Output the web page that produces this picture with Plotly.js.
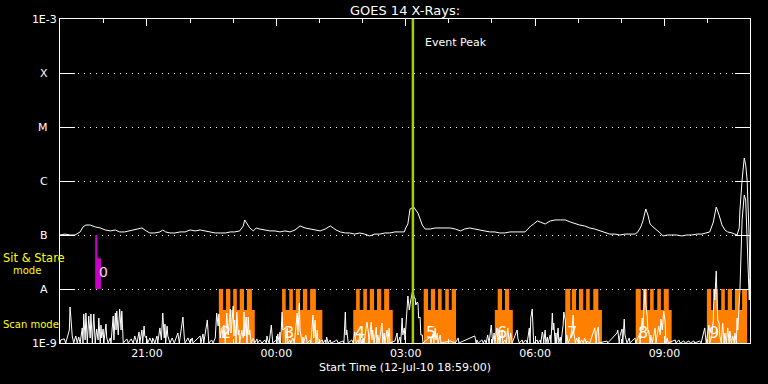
<!DOCTYPE html>
<html>
<head>
<meta charset="utf-8">
<script src="https://cdn.plot.ly/plotly-3.0.1.min.js"></script>
<style>html,body{margin:0;padding:0;background:#000;}#chart{width:768px;height:384px;}</style>
</head>
<body>
<div id="chart"></div>
<script>
// ---- data (times in minutes after 12-Jul-2010 18:59 UT) ----
const startUTC = Date.UTC(2010, 6, 12, 18, 59, 0);
const endMin = 960;
const eventPeakTime = '2010-07-13 03:10:00';

// long channel (1-8 A): [minute, flux x1e-7 W/m^2]
const longChannel = [
[0,1.00],[7,1.04],[14,1.00],[21,1.00],[28,1.14],[32,1.41],[36,1.53],[42,1.53],[49,1.41],[56,1.35],
[63,1.24],[70,1.19],[77,1.24],[83,1.14],[90,1.14],[97,1.19],[104,1.24],[114,1.35],[120,1.19],[125,1.09],
[132,1.09],[139,1.14],[143,1.24],[147,1.14],[153,1.09],[160,1.09],[167,1.14],[174,1.14],[181,1.24],[188,1.19],
[195,1.24],[202,1.19],[209,1.14],[216,1.09],[223,1.09],[230,1.09],[237,1.14],[243,1.14],[250,1.19],[255,1.47],
[257,1.90],[260,1.60],[264,1.35],[269,1.19],[273,1.35],[278,1.29],[285,1.24],[292,1.19],[299,1.19],[306,1.14],
[313,1.19],[320,1.14],[327,1.24],[334,1.47],[341,1.35],[348,1.29],[355,1.24],[362,1.19],[369,1.29],[376,1.47],
[380,1.35],[384,1.24],[390,1.14],[397,1.09],[403,1.09],[410,1.04],[417,1.09],[424,1.04],[431,0.96],[438,1.04],
[445,1.04],[452,1.09],[459,1.09],[466,1.14],[473,1.14],[479,1.14],[481,1.35],[484,1.60],[487,3.03],[490,3.16],
[491,3.44],[494,3.03],[498,2.55],[501,1.98],[504,1.53],[508,1.29],[515,1.29],[522,1.35],[529,1.35],[536,1.35],
[543,1.35],[550,1.29],[557,1.19],[563,1.29],[570,1.35],[577,1.29],[584,1.24],[591,1.19],[598,1.14],[605,1.14],
[612,1.09],[619,1.09],[626,1.14],[633,1.14],[640,1.14],[647,1.14],[651,1.29],[655,1.47],[659,1.60],[664,1.82],
[668,1.74],[675,1.60],[682,1.82],[689,1.90],[696,1.90],[703,1.90],[710,1.74],[717,1.60],[723,1.53],[730,1.47],
[737,1.35],[744,1.29],[751,1.19],[758,1.09],[765,1.04],[772,1.04],[779,1.00],[786,1.04],[793,1.04],[800,1.04],
[804,1.14],[808,1.41],[811,1.82],[815,3.03],[818,2.34],[821,1.60],[825,1.41],[829,1.29],[835,1.09],[839,0.96],
[845,1.00],[851,1.00],[858,1.00],[865,0.96],[872,1.00],[879,1.00],[886,1.04],[893,1.04],[900,1.09],[904,1.14],
[909,1.74],[913,3.30],[917,2.34],[921,1.53],[925,1.24],[929,1.14],[935,1.09],[942,1.00],[945,1.35],[946,2.90],
[949,10.4],[952,26.7],[954,19.8],[956,10.4],[957,4.45],[959,0.81],[960,0.096]
];

// short channel (0.5-4 A): [minute, flux x1e-9 W/m^2]
const shortChannel = [
[0,1.0],[1,1.14],[6,1.19],[8,1.0],[13,1.74],[14,4.64],[15,3.16],[17,1.35],[19,1.0],[22,1.35],
[24,1.0],[26,1.29],[28,1.0],[31,1.90],[32,1.0],[33,3.44],[35,1.14],[36,3.59],[38,1.0],[40,3.16],
[42,1.24],[43,3.44],[45,1.0],[46,2.55],[47,3.44],[49,1.0],[51,1.82],[53,1.14],[54,2.90],[56,1.0],
[57,2.15],[58,1.24],[60,1.82],[61,1.0],[64,2.25],[65,1.24],[67,1.0],[70,1.24],[71,1.0],[74,3.16],
[75,1.14],[77,3.59],[78,1.74],[79,3.91],[81,1.41],[83,4.26],[85,1.74],[86,3.91],[88,1.0],[93,1.19],
[95,1.0],[99,1.19],[102,1.0],[104,1.35],[107,1.0],[110,1.60],[111,1.0],[114,1.74],[115,1.0],[117,2.06],
[118,1.35],[121,1.19],[122,1.0],[125,1.24],[128,1.0],[129,1.24],[132,1.0],[135,1.35],[136,1.0],[139,1.90],
[141,1.14],[143,3.59],[145,1.24],[146,2.25],[147,1.0],[149,2.06],[150,1.35],[153,1.0],[156,1.24],[159,1.0],
[161,1.19],[164,1.53],[166,1.0],[170,2.25],[171,3.03],[173,1.24],[174,1.0],[178,1.24],[181,1.0],[184,1.24],
[185,1.0],[195,1.35],[196,1.0],[199,1.47],[200,1.0],[205,2.67],[206,1.24],[207,1.0],[211,1.14],[213,1.0],
[216,1.24],[218,3.59],[220,2.06],[221,3.44],[223,1.24],[225,1.90],[227,1.35],[228,2.15],[230,1.0],[232,3.59],
[234,1.41],[235,2.06],[237,4.26],[238,1.53],[241,4.84],[242,1.35],[243,2.67],[245,1.0],[246,3.75],[248,1.41],
[249,1.74],[250,1.0],[253,1.74],[255,1.24],[256,3.75],[257,1.35],[259,3.03],[260,1.0],[262,3.03],[263,1.41],
[264,1.74],[266,1.0],[269,1.24],[271,1.0],
[274,1.19],[275,1.0],[278,1.14],[281,1.0],[285,1.14],[287,1.0],[288,1.35],[289,1.14],[291,1.0],[294,2.15],
[295,1.24],[296,1.0],[301,1.14],[302,1.0],[303,1.47],[305,1.0],[306,1.60],[307,1.0],[309,3.75],[310,1.74],
[313,1.90],[314,1.0],[316,1.90],[317,1.0],[320,1.14],[321,1.0],[324,1.24],[326,1.0],[328,1.82],[330,3.59],
[331,1.41],[333,5.50],[334,1.74],[335,1.41],[337,1.0],[338,1.29],[339,1.0],[342,1.41],[344,1.0],[348,1.14],
[349,1.0],[352,3.30],[353,1.24],[355,2.67],[356,1.0],[358,1.74],[359,1.0],[365,1.14],[366,1.0],[369,1.14],
[370,1.0],[371,1.29],[373,1.0],[376,1.14],[377,1.0],[383,1.09],[385,1.14],[387,1.0],
[394,1.09],[395,1.0],[397,3.75],[398,1.41],[399,1.74],[401,1.0],[406,1.14],[408,1.0],[410,1.60],[412,1.0],
[415,1.14],[416,1.0],[417,1.53],[419,1.0],[422,1.24],[423,1.0],[427,2.45],[429,1.60],[430,1.0],[433,2.45],
[434,1.14],[435,1.74],[437,1.0],[440,1.98],[441,1.0],[442,1.41],[444,1.0],[448,2.34],[449,1.0],[451,1.53],
[452,1.0],[455,1.74],[456,1.0],[458,1.90],[459,1.0],[466,1.09],[469,1.53],[470,1.0],[473,1.29],[474,1.0],
[476,2.90],[477,1.41],[479,1.90],[480,1.14],[483,3.75],[484,7.42],[486,4.08],[487,5.50],[488,6.25],[490,8.43],
[491,9.58],[493,6.81],[494,6.81],[495,5.05],[497,5.74],[498,5.50],[499,2.90],[501,3.03],[502,1.41],[504,1.41],
[505,1.0],[515,1.29],[516,1.0],[519,1.47],[520,1.0],[522,1.90],[523,1.14],[525,1.53],[526,1.0],[529,1.41],
[530,1.0],[543,1.09],[550,1.0],[554,1.24],[555,1.0],[577,1.35],[579,1.0],[580,1.14],[582,1.0],
[587,1.14],[589,1.0],[591,1.14],[593,1.0],[595,1.41],[597,1.0],[600,2.15],[601,1.29],[602,1.0],[604,1.53],
[605,1.0],[608,1.90],[609,1.0],[611,1.41],[612,1.0],[615,1.74],[616,1.0],[619,1.14],[621,1.0],[623,1.90],
[625,1.0],[627,1.53],[629,1.0],[636,1.74],[637,1.24],[639,1.0],[643,1.14],[644,1.0],[648,1.14],[650,1.0],
[653,1.90],[654,1.0],[655,2.90],[657,4.26],[658,1.60],[659,1.0],[664,1.14],[665,1.0],[668,1.14],[669,1.0],
[671,1.60],[672,1.41],[673,1.0],[675,1.74],[676,1.0],[678,1.29],[679,1.0],[682,1.41],[683,1.0],[685,3.59],
[686,1.74],[687,2.34],[689,1.0],[690,1.53],[691,1.0],[693,1.90],[694,1.0],[696,1.29],[697,1.0],[700,2.15],
[701,3.75],[703,2.67],[704,1.0],[705,1.41],[707,1.0],[710,1.24],[712,1.74],[714,3.30],[715,1.53],[717,1.0],
[719,1.24],[721,1.0],[722,1.29],[723,1.0],[726,1.14],[728,1.0],[730,1.24],[732,1.0],[733,1.09],[737,1.0],
[744,1.90],[746,1.0],[747,1.60],[749,1.98],[750,1.0],[761,1.09],[762,1.0],[775,1.53],[776,1.74],[778,1.0],
[779,1.35],[782,1.82],[783,1.0],[785,2.78],[786,1.41],[787,1.29],[789,1.0],[792,1.24],[793,1.0],[800,1.24],
[801,1.0],[806,1.41],[807,1.0],[810,2.90],[811,1.74],[813,6.53],[814,10.0],[815,5.05],[817,3.16],[818,1.53],
[819,1.74],[821,1.0],[822,1.41],[824,1.0],[826,1.35],[828,1.90],[829,1.0],[833,2.06],[835,1.41],[836,2.78],
[838,1.74],[840,3.91],[842,2.45],[843,1.0],[845,1.24],[846,1.0],[856,1.14],[857,1.0],[861,1.14],[863,1.0],
[868,1.09],[870,1.0],[875,1.09],[877,1.0],[882,1.09],[883,1.0],[890,1.09],[892,1.0],[897,1.90],[899,1.0],
[903,2.15],[904,1.0],[907,1.41],[909,2.67],[910,10.0],[911,6.25],[913,21.5],[914,10.0],[915,2.67],[917,2.34],
[918,1.35],[920,1.0],[922,2.34],[924,1.0],[925,1.53],[927,1.0],[929,1.90],[931,1.0],[932,1.67],[934,1.0],
[936,1.35],[938,1.0],[939,1.53],[941,1.0],[942,2.90],[943,1.74],[945,4.26],[946,9.58],[949,190],[952,550],
[954,445],[956,80.7],[957,16.7],[959,6.25],[960,15.3]
];

// Scan mode intervals (minutes)
const scanLabels   = ['2','3','4','5','6','7','8','9'];
const scanStartMin = [221,309,408,506,605,703,801,900];
const scanEndMin   = [271,365,463,551,630,754,851,956];
const scanTeeth = [
  [[221,227],[231,237],[241,246],[250,256],[260,267]],
  [[309,314],[319,324],[328,334],[338,344],[348,356]],
  [[412,417],[422,427],[431,437],[441,447],[451,458]],
  [[506,512],[516,522],[526,531],[536,541],[545,551]],
  [[609,615],[619,625]],
  [[703,710],[712,718],[722,728],[732,737],[742,749]],
  [[801,808],[811,817],[821,826],[831,836],[840,847]],
  [[900,906],[910,915],[920,925],[929,935],[939,945],[949,956]]
];
// Sit & Stare interval (minutes)
const stareLabel = '0';
const stareMin = [49,52];
const stareWideMin = [49,57];

// Y axis decades & GOES class labels
const yTickVals = [1e-9,1e-8,1e-7,1e-6,1e-5,1e-4,1e-3];
const yTickText = ['1E-9','A','B','C','M','X','1E-3'];

// ---- helpers ----
function stamp(m){
  const d = new Date(startUTC + m*60000);
  return d.toISOString().replace('T',' ').slice(0,19);
}
const ORANGE = '#ff8000', MAGENTA = '#c800c8', GREEN = '#a0d000', YEL = '#ffff00';
const FONT = 'DejaVu Sans';
// flux levels of the mode bars
const modeBottom = 1e-9, combLevel = 4.08e-9, modeTop = 1e-8;
// single-letter labels are centred under the wider 1E-n labels
const yTickShown = yTickText.map(t => t.length === 1 ? t + '\u2007\u2009' : t);

// scan-mode polygons
const sx = [], sy = [];
function rect(t0, t1, f0, f1){
  sx.push(stamp(t0), stamp(t1), stamp(t1), stamp(t0), stamp(t0), null);
  sy.push(f0, f0, f1, f1, f0, null);
}
for(let i=0;i<scanStartMin.length;i++){
  rect(scanStartMin[i], scanEndMin[i], modeBottom, combLevel);
  scanTeeth[i].forEach(t => rect(t[0], t[1], modeBottom, modeTop));
}
const mx = [], my = [];
function rectM(t0, t1, f0, f1){
  mx.push(stamp(t0), stamp(t1), stamp(t1), stamp(t0), stamp(t0), null);
  my.push(f0, f0, f1, f1, f0, null);
}
rectM(stareMin[0], stareMin[1], 1e-8, 1e-7);
rectM(stareWideMin[0], stareWideMin[1], 1e-8, 3.7e-8);

const traces = [
  {x:sx, y:sy, type:'scatter', mode:'lines', fill:'toself', fillcolor:ORANGE, line:{width:0, color:ORANGE}, hoverinfo:'skip'},
  {x:mx, y:my, type:'scatter', mode:'lines', fill:'toself', fillcolor:MAGENTA, line:{width:0, color:MAGENTA}, hoverinfo:'skip'},
  {x:shortChannel.map(p=>stamp(p[0])), y:shortChannel.map(p=>p[1]*1e-9), type:'scatter', mode:'lines', line:{color:'#fff', width:1}},
  {x:longChannel.map(p=>stamp(p[0])), y:longChannel.map(p=>p[1]*1e-7), type:'scatter', mode:'lines', line:{color:'#fff', width:1}}
];

const annotations = [];
for(let i=0;i<scanLabels.length;i++){
  annotations.push({x:stamp(scanStartMin[i]), xref:'x', y:0.031, yref:'paper', text:scanLabels[i], showarrow:false,
    xanchor:'left', yanchor:'middle', font:{family:FONT, size:16, color:'#fff'}});
}
annotations.push({x:stamp(stareMin[1]), xref:'x', y:0.219, yref:'paper', text:stareLabel, showarrow:false,
  xanchor:'left', yanchor:'middle', font:{family:FONT, size:14, color:'#ffd0ff'}});
annotations.push({x:stamp(505), xref:'x', y:0.926, yref:'paper', text:'Event Peak', showarrow:false,
  xanchor:'left', yanchor:'middle', font:{family:FONT, size:11, color:'#fff'}});
annotations.push({x:-59/690, xref:'paper', y:(343-258)/324, yref:'paper', text:'Sit & Stare', showarrow:false,
  xanchor:'left', yanchor:'middle', font:{family:FONT, size:11.5, color:YEL}});
annotations.push({x:-49/690, xref:'paper', y:(343-270.5)/324, yref:'paper', text:'mode', showarrow:false,
  xanchor:'left', yanchor:'middle', font:{family:FONT, size:10, color:YEL}});
annotations.push({x:-59/690, xref:'paper', y:(343-324)/324, yref:'paper', text:'Scan mode', showarrow:false,
  xanchor:'left', yanchor:'middle', font:{family:FONT, size:10, color:YEL}});

const layout = {
  width:768, height:384,
  paper_bgcolor:'#000', plot_bgcolor:'#000',
  margin:{l:60, r:18, t:19, b:41, pad:0},
  showlegend:false,
  font:{family:FONT, color:'#fff', size:11},
  title:{text:'GOES 14 X-Rays:', font:{family:FONT, size:13, color:'#fff'}, x:0.5, xref:'paper', xanchor:'center', y:1-10/384, yref:'container', yanchor:'middle'},
  xaxis:{
    type:'date', range:[stamp(0), stamp(endMin)],
    tickformat:'%H:%M', tick0:'2010-07-12 21:00:00', dtick:10800000,
    ticks:'inside', ticklen:7, tickwidth:1, tickcolor:'#fff',
    minor:{dtick:3600000, tick0:'2010-07-12 19:00:00', ticks:'inside', ticklen:4, tickwidth:1, tickcolor:'#fff', showgrid:false},
    showline:true, linecolor:'#fff', linewidth:1, mirror:'allticks',
    showgrid:false, zeroline:false,
    tickfont:{family:FONT, size:11, color:'#fff'},
    title:{text:'Start Time (12-Jul-10 18:59:00)', font:{family:FONT, size:11, color:'#fff'}, standoff:4},
    automargin:false
  },
  yaxis:{
    type:'log', range:[-9,-3],
    tickvals:yTickVals, ticktext:yTickShown,
    ticks:'inside', ticklen:15, tickwidth:1, tickcolor:'#fff',
    showline:true, linecolor:'#fff', linewidth:1, mirror:'allticks',
    showgrid:true, gridcolor:'#fff', gridwidth:1, griddash:'1px,5px',
    zeroline:false,
    tickfont:{family:FONT, size:11, color:'#fff'},
    automargin:false
  },
  shapes:[
    {type:'line', xref:'x', yref:'paper', x0:eventPeakTime, x1:eventPeakTime, y0:0, y1:1, line:{color:GREEN, width:2.5}, layer:'above'}
  ],
  annotations:annotations
};

Plotly.newPlot('chart', traces, layout, {staticPlot:true, displayModeBar:false});
</script>
</body>
</html>
